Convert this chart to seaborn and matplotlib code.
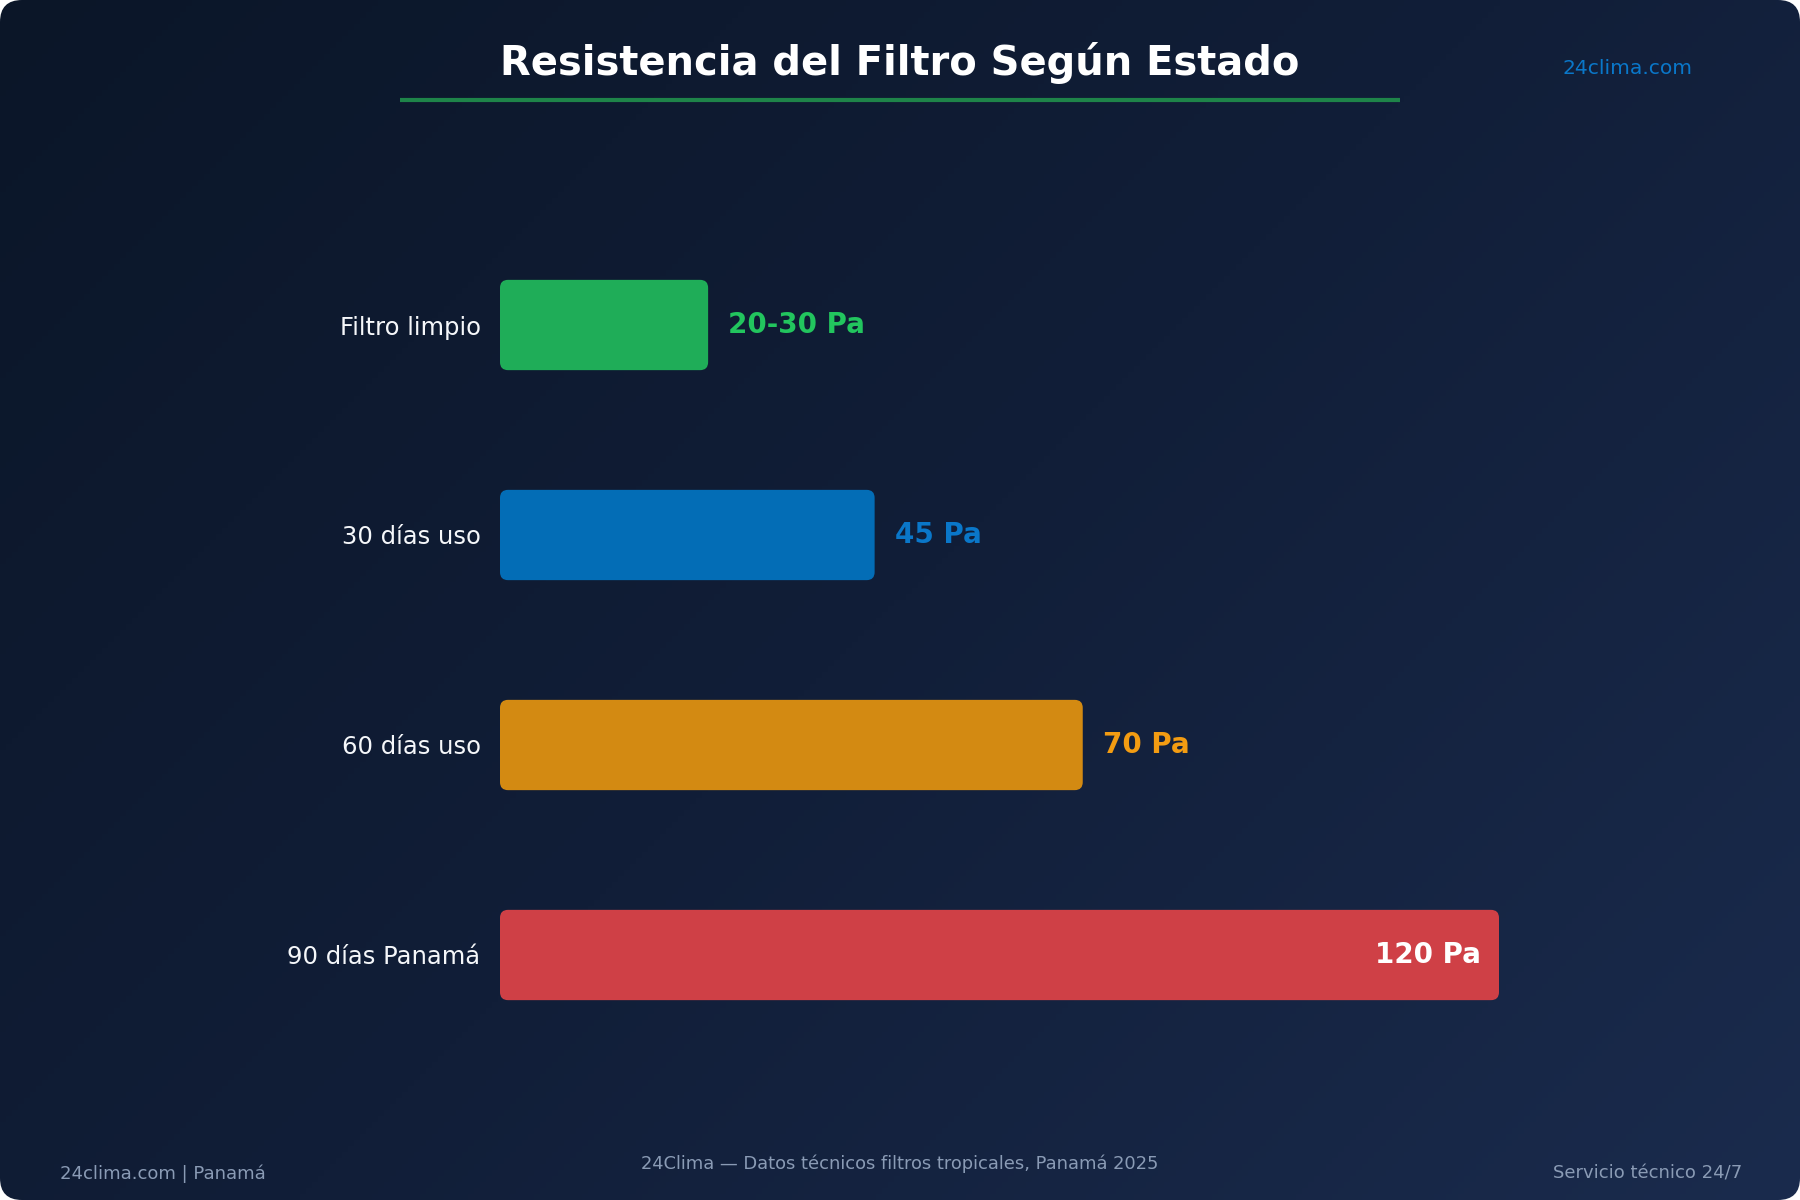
import numpy as np
import pandas as pd
import matplotlib
matplotlib.use("Agg")
import matplotlib.pyplot as plt
import seaborn as sns
from matplotlib.colors import LinearSegmentedColormap
from matplotlib.patches import FancyBboxPatch

# Data
estados = ["Filtro limpio", "30 días uso", "60 días uso", "90 días Panamá"]
resistencia_pa = [25, 45, 70, 120]
etiquetas = ["20-30 Pa", "45 Pa", "70 Pa", "120 Pa"]
colores_barra = ["#1fad58", "#036db6", "#d38a12", "#cf4046"]
colores_texto = ["#22c55e", "#0a77c9", "#f39c12", "#ffffff"]

titulo = "Resistencia del Filtro Según Estado"
marca = "24clima.com"
pie_centro = "24Clima — Datos técnicos filtros tropicales, Panamá 2025"
pie_izq = "24clima.com | Panamá"
pie_der = "Servicio técnico 24/7"

sns.set_theme(style="white")
plt.rcParams["font.family"] = ["DejaVu Sans"]

W, H = 1800, 1200
fig = plt.figure(figsize=(18, 12), dpi=100, facecolor="white")

# Background card with diagonal gradient and rounded corners
ax_bg = fig.add_axes([0, 0, 1, 1], zorder=0)
ax_bg.set_xlim(0, W)
ax_bg.set_ylim(H, 0)
ax_bg.axis("off")
yy, xx = np.mgrid[0:1:200j, 0:1:300j]
grad = (xx * 0.6 + yy * 0.4)
cmap_bg = LinearSegmentedColormap.from_list("bg", ["#0b1628", "#111e38", "#1a2b4d"])
img = ax_bg.imshow(grad, cmap=cmap_bg, extent=(0, W, H, 0), aspect="auto")
card = FancyBboxPatch((0, 0), W, H, boxstyle="round,pad=0,rounding_size=22",
                      transform=ax_bg.transData, facecolor="none", edgecolor="none")
ax_bg.add_patch(card)
img.set_clip_path(card)

# Title, underline, brand
ax_bg.text(900, 63, titulo, color="white", fontsize=28.8, fontweight="bold",
           ha="center", va="center")
ax_bg.plot([400, 1400], [100, 100], color="#1e8449", lw=3, solid_capstyle="butt")
ax_bg.text(1627, 69, marca, color="#0a77c9", fontsize=14.6, ha="center", va="center")

# Footer
ax_bg.text(900, 1164, pie_centro, color="#8a9bb5", fontsize=12.9, ha="center", va="center")
ax_bg.text(60, 1174, pie_izq, color="#8a9bb5", fontsize=13, ha="left", va="center")
ax_bg.text(1742, 1174, pie_der, color="#8a9bb5", fontsize=13, ha="right", va="center")

# Bars axes: x 0..120 Pa maps to 500..1499 px, rows spaced 210 px
x0, x1 = 500, 1499
y_top, y_bot = 220, 1060
ax = fig.add_axes([x0 / W, 1 - y_bot / H, (x1 - x0) / W, (y_bot - y_top) / H], zorder=1)
ax.patch.set_alpha(0)

df = pd.DataFrame({"estado": estados, "pa": resistencia_pa})
sns.barplot(data=df, x="pa", y="estado", hue="estado", palette=colores_barra,
            orient="h", width=0.43, legend=False, ax=ax, saturation=1)
ax.set_xlim(0, 120)
ax.set_ylim(len(estados) - 0.5, -0.5)

# px per unit for aspect-correct rounded corners
px_x = (x1 - x0) / 120
px_y = (y_bot - y_top) / len(estados)
radius_px = 8
for patch, col in zip(list(ax.patches), colores_barra):
    bx, by = patch.get_x(), patch.get_y()
    bw, bh = patch.get_width(), patch.get_height()
    patch.remove()
    rounded = FancyBboxPatch((bx, by), bw, bh,
                             boxstyle=f"round,pad=0,rounding_size={radius_px / px_x}",
                             mutation_aspect=px_x / px_y,
                             facecolor=col, edgecolor="none")
    ax.add_patch(rounded)

for i, (val, lab, tc) in enumerate(zip(resistencia_pa, etiquetas, colores_texto)):
    if val == max(resistencia_pa):
        ax.text(val - 18 / px_x, i, lab, color=tc, fontsize=20, fontweight="bold",
                ha="right", va="center")
    else:
        ax.text(val + 20 / px_x, i, lab, color=tc, fontsize=20, fontweight="bold",
                ha="left", va="center")

ax.set_xlabel("")
ax.set_ylabel("")
ax.set_xticks([])
ax.tick_params(axis="y", length=0, pad=14, labelsize=17.5, labelcolor="#f5f7fa")
for s in ax.spines.values():
    s.set_visible(False)
ax.grid(False)

fig.savefig("out.png", dpi=100, facecolor="white")
